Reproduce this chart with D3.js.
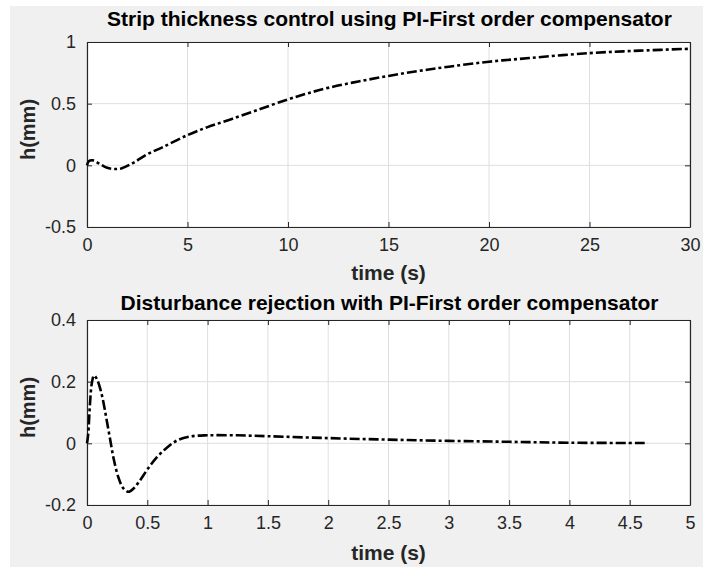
<!DOCTYPE html>
<html><head><meta charset="utf-8">
<script src="https://cdn.jsdelivr.net/npm/d3@7"></script>
<style>
html,body{margin:0;padding:0;background:#fff;}
svg{display:block;}
text{font-family:"Liberation Sans",Arial,Helvetica,sans-serif;}
</style></head>
<body>
<svg id="chart" width="703" height="567"></svg>
<script>
// ---- Data ----
const topTitle = "Strip thickness control using PI-First order compensator";
const bottomTitle = "Disturbance rejection with PI-First order compensator";
const xLabel = "time (s)";
const yLabel = "h(mm)";

const topTime  = [0, 0.1, 0.3, 0.6, 1.0, 1.35, 1.7, 2.3, 3, 3.8, 5, 6, 7.1, 8.5, 10, 11, 12.1, 13.5, 15, 16.5, 18, 20, 22, 25, 27.5, 30];
const topValue = [0, 0.035, 0.04, 0.015, -0.02, -0.03, -0.025, 0.02, 0.09, 0.15, 0.245, 0.31, 0.37, 0.45, 0.535, 0.585, 0.632, 0.68, 0.725, 0.765, 0.80, 0.84, 0.87, 0.91, 0.93, 0.945];
const topXTicks = [0, 5, 10, 15, 20, 25, 30];
const topYTicks = [-0.5, 0, 0.5, 1];

const botTime  = [0, 0.01, 0.025, 0.04, 0.058, 0.08, 0.1, 0.13, 0.16, 0.19, 0.22, 0.26, 0.3, 0.345, 0.39, 0.44, 0.5, 0.58, 0.66, 0.75, 0.85, 1.0, 1.25, 1.5, 2.0, 2.5, 3.0, 3.5, 4.0, 4.65];
const botValue = [0, 0.03, 0.13, 0.195, 0.22, 0.21, 0.19, 0.145, 0.082, 0.017, -0.048, -0.11, -0.145, -0.157, -0.145, -0.12, -0.085, -0.045, -0.015, 0.01, 0.022, 0.026, 0.026, 0.023, 0.017, 0.012, 0.008, 0.005, 0.002, 0.001];
const botXTicks = [0, 0.5, 1, 1.5, 2, 2.5, 3, 3.5, 4, 4.5, 5];
const botYTicks = [-0.2, 0, 0.2, 0.4];

// ---- Drawing ----
const svg = d3.select("#chart");
svg.append("rect").attr("x",10).attr("y",6).attr("width",693).attr("height",561).attr("fill","#f0f0f0");

function panel(cfg){
  const {left,right,top,bottom,xDomain,yDomain,xTicks,yTicks,times,values,title,titleY,xLabelY} = cfg;
  const x = d3.scaleLinear().domain(xDomain).range([left,right]);
  const y = d3.scaleLinear().domain(yDomain).range([bottom,top]);
  const g = svg.append("g");
  g.append("rect").attr("x",left).attr("y",top).attr("width",right-left).attr("height",bottom-top).attr("fill","#fff");
  // grid
  g.selectAll(".gx").data(xTicks).enter().append("line")
    .attr("x1",d=>x(d)).attr("x2",d=>x(d)).attr("y1",top).attr("y2",bottom)
    .attr("stroke","#dfdfdf").attr("stroke-width",1);
  g.selectAll(".gy").data(yTicks).enter().append("line")
    .attr("y1",d=>y(d)).attr("y2",d=>y(d)).attr("x1",left).attr("x2",right)
    .attr("stroke","#dfdfdf").attr("stroke-width",1);
  // axes via d3
  const tickFmt = d=>String(d);
  const xb = g.append("g").attr("transform",`translate(0,${bottom})`)
    .call(d3.axisBottom(x).tickValues(xTicks).tickFormat(tickFmt).tickSizeInner(-5).tickSizeOuter(0).tickPadding(11));
  const xt = g.append("g").attr("transform",`translate(0,${top})`)
    .call(d3.axisTop(x).tickValues(xTicks).tickFormat("").tickSizeInner(-5).tickSizeOuter(0));
  const yl = g.append("g").attr("transform",`translate(${left},0)`)
    .call(d3.axisLeft(y).tickValues(yTicks).tickFormat(tickFmt).tickSizeInner(-5).tickSizeOuter(0).tickPadding(11));
  const yr = g.append("g").attr("transform",`translate(${right},0)`)
    .call(d3.axisRight(y).tickValues(yTicks).tickFormat("").tickSizeInner(-5).tickSizeOuter(0));
  [xb,xt,yl,yr].forEach(a=>{
    a.select(".domain").attr("stroke","#262626").attr("stroke-width",1.2);
    a.selectAll(".tick line").attr("stroke","#262626").attr("stroke-width",1);
    a.selectAll(".tick text").attr("fill","#262626").style("font-size","18px").style("font-family",'"Liberation Sans",Arial,sans-serif');
  });
  // line
  const line = d3.line().x((d,i)=>x(times[i])).y((d,i)=>y(values[i])).curve(d3.curveCatmullRom.alpha(0.5));
  g.append("path").datum(values).attr("d",line)
    .attr("fill","none").attr("stroke","#000").attr("stroke-width",2.6)
    .attr("stroke-dasharray","10,3,3,3");
  // title
  g.append("text").attr("x",(left+right)/2 + 1).attr("y",titleY).attr("text-anchor","middle")
    .style("font-size","21px").style("font-weight","bold").attr("fill","#000").text(title);
  // x label
  g.append("text").attr("x",(left+right)/2).attr("y",xLabelY).attr("text-anchor","middle")
    .style("font-size","21px").style("font-weight","bold").attr("fill","#262626").text(xLabel);
  // y label
  const cy = (top+bottom)/2 - 5;
  g.append("text").attr("transform",`translate(35,${cy}) rotate(-90)`).attr("text-anchor","middle")
    .style("font-size","20px").style("font-weight","bold").attr("fill","#262626").text(yLabel);
}

panel({left:87,right:690,top:42,bottom:227,xDomain:[0,30],yDomain:[-0.5,1],xTicks:topXTicks,yTicks:topYTicks,
  times:topTime,values:topValue,title:topTitle,titleY:26,xLabelY:280});
panel({left:87,right:690,top:320,bottom:505,xDomain:[0,5],yDomain:[-0.2,0.4],xTicks:botXTicks,yTicks:botYTicks,
  times:botTime,values:botValue,title:bottomTitle,titleY:310,xLabelY:560});
</script>
</body></html>
